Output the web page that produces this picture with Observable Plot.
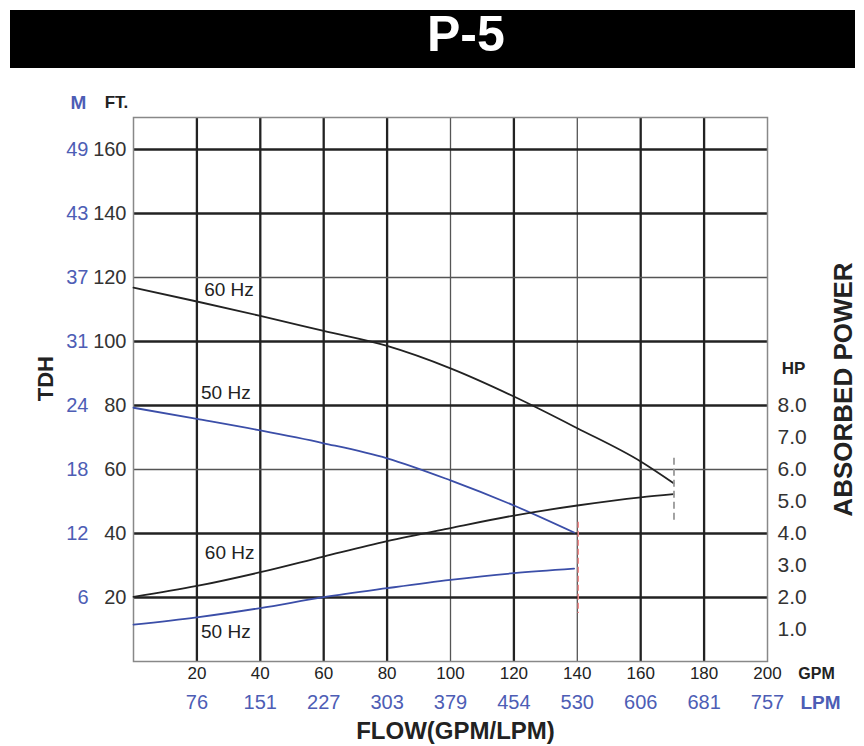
<!DOCTYPE html>
<html><head><meta charset="utf-8">
<script src="https://cdn.jsdelivr.net/npm/d3@7"></script>
<script src="https://cdn.jsdelivr.net/npm/@observablehq/plot@0.6"></script>
<style>
body{margin:0;background:#fff;width:864px;height:746px;position:relative;overflow:hidden;font-family:"Liberation Sans",Arial,sans-serif}
#title{position:absolute;left:10px;top:10px;width:845px;height:58px;background:#000;color:#fff;font-weight:bold;font-size:50px;line-height:48px;box-sizing:border-box;padding-left:417px;text-align:left}
#chart{position:absolute;left:0;top:70px}
</style></head><body>
<div id="title">P-5</div>
<div id="chart"></div>
<script>
// Flow points (GPM)
const gpm60 = [0, 20, 40, 60, 80, 100, 120, 140, 160, 170.4];
const gpm50 = [0, 20, 40, 60, 80, 100, 120, 139];
// Head (ft)
const head60 = [116.8, 112.5, 108, 103.3, 98.6, 91.6, 82.8, 72.9, 62.5, 55.7];
const head50 = [79.3, 75.8, 72.2, 68.2, 63.5, 56.6, 48.75, 40.3];
// Absorbed power (HP)
const power60 = [2.02, 2.36, 2.79, 3.28, 3.76, 4.17, 4.56, 4.875, 5.13, 5.23];
const power50 = [1.15, 1.38, 1.67, 2.01, 2.29, 2.55, 2.76, 2.9];
// Tick labels
const gpmTicks = [20, 40, 60, 80, 100, 120, 140, 160, 180, 200];
const lpmTicks = [76, 151, 227, 303, 379, 454, 530, 606, 681, 757];
const ftTicks = [20, 40, 60, 80, 100, 120, 140, 160];
const mTicks = [6, 12, 18, 24, 31, 37, 43, 49];
const hpTicks = [1, 2, 3, 4, 5, 6, 7, 8];
// End-of-curve markers (GPM, ft range)
const maxFlow60 = {gpm: 170.5, top: 63.5, bottom: 44};
const maxFlow50 = {gpm: 140.3, top: 43.5, bottom: 15};

const HP_TO_FT = 10; // right axis: 1 HP per 10 ft of the left scale
const toRows = (xs, ys) => xs.map((x, i) => ({x, y: ys[i]}));
const thinX = [100, 140];
const thinY = [60, 120];
const blue = "#3b4ea8";
const blueText = "#4d5db5";
const dark = "#222";
const mid = {lineAnchor: "middle", textAnchor: "middle"};

const chart = Plot.plot({
  width: 864,
  height: 676,
  marginLeft: 133,
  marginRight: 97,
  marginTop: 47,
  marginBottom: 85,
  style: {fontFamily: "'Liberation Sans', Arial, sans-serif", background: "#fff"},
  x: {domain: [0, 200], axis: null},
  y: {domain: [0, 170], axis: null},
  marks: [
    // grid
    Plot.ruleX(gpmTicks.filter(d => d < 200 && !thinX.includes(d)), {stroke: dark, strokeWidth: 2.3}),
    Plot.ruleX(thinX, {stroke: "#555", strokeWidth: 1.3}),
    Plot.ruleY(ftTicks.filter(d => !thinY.includes(d)), {stroke: dark, strokeWidth: 2.3}),
    Plot.ruleY(thinY, {stroke: "#555", strokeWidth: 1.3}),
    Plot.frame({stroke: "#888", strokeWidth: 1.5}),
    // curves
    Plot.line(toRows(gpm60, head60), {x: "x", y: "y", stroke: dark, strokeWidth: 1.8, curve: "monotone-x"}),
    Plot.line(toRows(gpm50, head50), {x: "x", y: "y", stroke: blue, strokeWidth: 1.8, curve: "monotone-x"}),
    Plot.line(toRows(gpm60, power60.map(d => d * HP_TO_FT)), {x: "x", y: "y", stroke: dark, strokeWidth: 1.8, curve: "monotone-x"}),
    Plot.line(toRows(gpm50, power50.map(d => d * HP_TO_FT)), {x: "x", y: "y", stroke: blue, strokeWidth: 1.8, curve: "monotone-x"}),
    // end markers
    Plot.ruleX([maxFlow60], {x: "gpm", y1: "top", y2: "bottom", stroke: "#999", strokeWidth: 1.8, strokeDasharray: "7,4"}),
    Plot.ruleX([maxFlow50], {x: "gpm", y1: "top", y2: "bottom", stroke: "#f38a8a", strokeWidth: 1.5, strokeDasharray: "6,3"}),
    // curve labels
    Plot.text(["60 Hz"], {x: 22.3, y: 116, text: d => d, textAnchor: "start", fontSize: 19, fill: dark}),
    Plot.text(["50 Hz"], {x: 21.3, y: 84, text: d => d, textAnchor: "start", fontSize: 19, fill: dark}),
    Plot.text(["60 Hz"], {x: 22.5, y: 33.8, text: d => d, textAnchor: "start", fontSize: 19, fill: dark}),
    Plot.text(["50 Hz"], {x: 21.3, y: 9.4, text: d => d, textAnchor: "start", fontSize: 19, fill: dark}),
    // left axes
    Plot.axisY(ftTicks, {anchor: "left", tickSize: 0, tickPadding: 7, fontSize: 20, fill: "#333", label: null}),
    Plot.text(ftTicks, {y: d => d, text: (d, i) => String(mTicks[i]), frameAnchor: "left", dx: -45, textAnchor: "end", fontSize: 20, fill: blueText}),
    Plot.text(["M"], {...mid, frameAnchor: "top-left", dx: -55, dy: -15, text: d => d, fontSize: 19, fontWeight: "bold", fill: blueText}),
    Plot.text(["FT."], {...mid, frameAnchor: "top-left", dx: -17, dy: -15, text: d => d, fontSize: 17, fontWeight: "bold", fill: dark}),
    Plot.text(["TDH"], {...mid, frameAnchor: "left", y: 88.4, dx: -88, rotate: -90, text: d => d, fontSize: 22, fontWeight: "bold", fill: dark}),
    // right axis (HP)
    Plot.text(hpTicks, {y: d => d * HP_TO_FT, text: d => d.toFixed(1), frameAnchor: "right", dx: 10, textAnchor: "start", fontSize: 21, fill: "#333"}),
    Plot.text(["HP"], {...mid, frameAnchor: "right", y: 91.6, dx: 26, text: d => d, fontSize: 17, fontWeight: "bold", fill: dark}),
    Plot.text(["ABSORBED POWER"], {...mid, frameAnchor: "right", dx: 76, rotate: -90, text: d => d, fontSize: 26, fontWeight: "bold", fill: dark}),
    // bottom axes
    Plot.axisX(gpmTicks, {anchor: "bottom", tickSize: 0, tickPadding: 5, fontSize: 17, fill: dark, label: null, fontFamily: "'Liberation Sans Narrow', 'Arial Narrow', 'Liberation Sans', sans-serif"}),
    Plot.text(gpmTicks, {...mid, x: d => d, text: (d, i) => String(lpmTicks[i]), frameAnchor: "bottom", dy: 41, fontSize: 20, fill: blueText}),
    Plot.text(["GPM"], {...mid, frameAnchor: "bottom-right", dx: 49, dy: 12, text: d => d, fontSize: 16, fontWeight: "bold", fill: dark}),
    Plot.text(["LPM"], {...mid, frameAnchor: "bottom-right", dx: 53, dy: 41, text: d => d, fontSize: 19, fontWeight: "bold", fill: blueText}),
    Plot.text(["FLOW(GPM/LPM)"], {...mid, frameAnchor: "bottom", dx: 5, dy: 70, text: d => d, fontSize: 24, fontWeight: "bold", fill: dark})
  ]
});
document.getElementById("chart").appendChild(chart);
</script>
</body></html>
